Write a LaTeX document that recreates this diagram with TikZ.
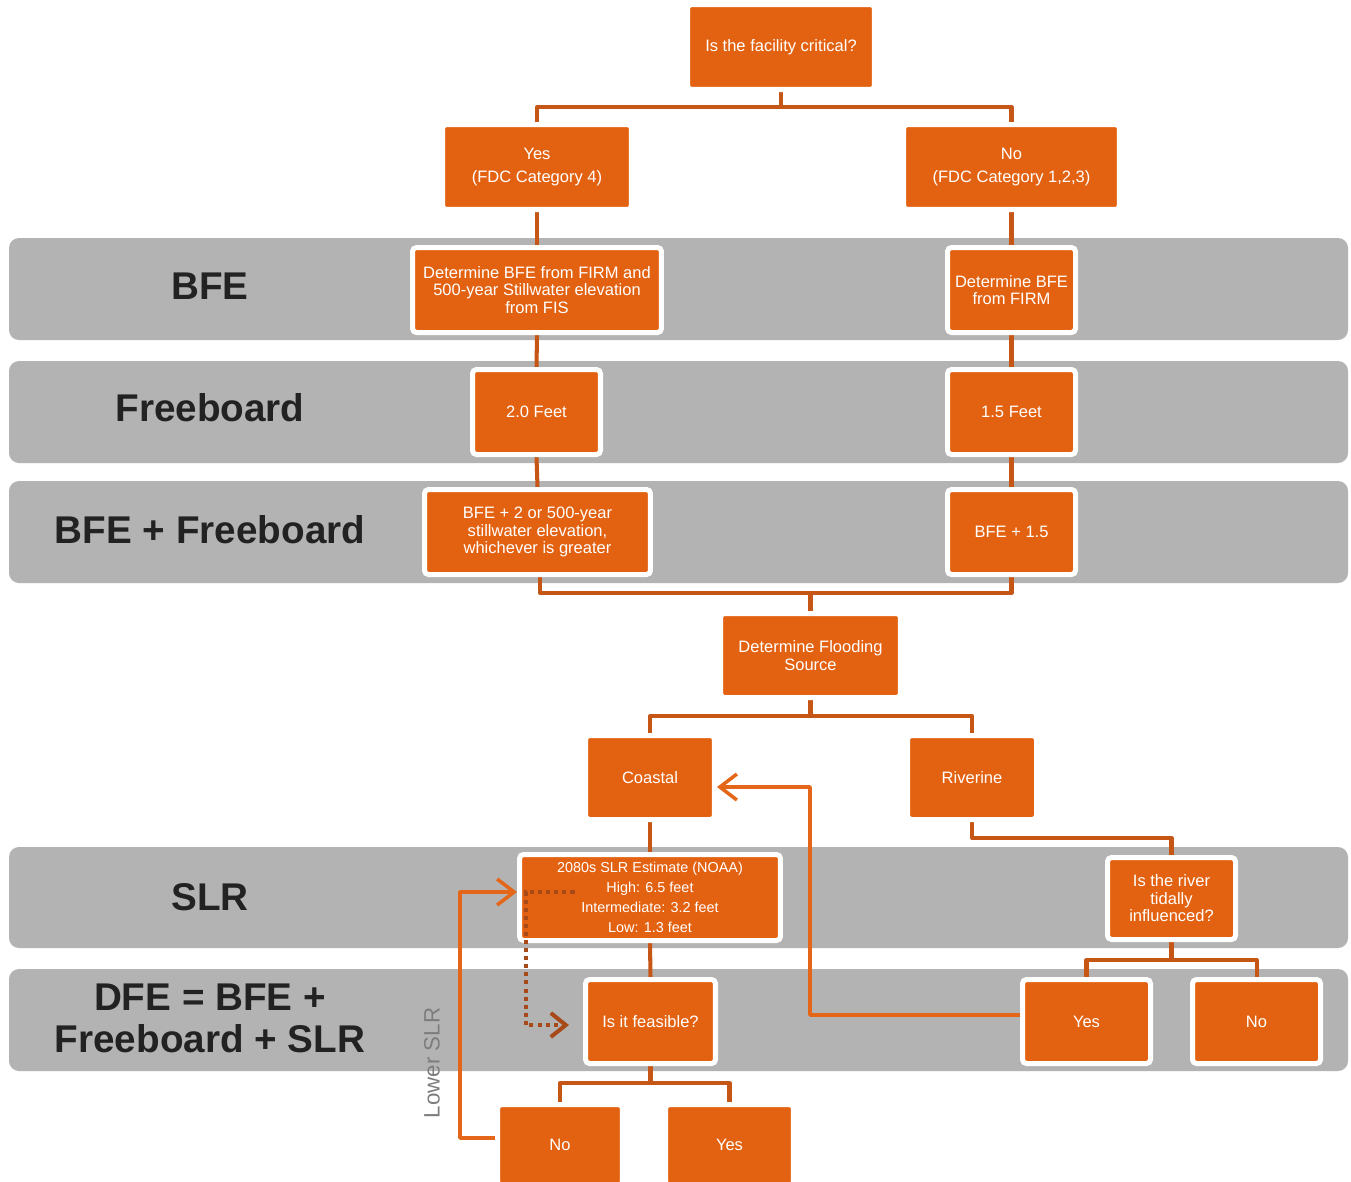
\documentclass[tikz,border=0pt]{standalone}
\usepackage{fontspec}
\setmainfont{Liberation Sans}
\usetikzlibrary{arrows.meta}
\definecolor{boxorange}{RGB}{227,98,17}
\definecolor{linkbrown}{RGB}{198,86,22}
\definecolor{backorange}{RGB}{228,102,24}
\definecolor{dotbrown}{RGB}{168,74,24}
\definecolor{bandgray}{RGB}{179,179,179}
\definecolor{labeltext}{RGB}{34,34,34}
\definecolor{lowergray}{RGB}{125,125,125}
\pgfdeclarelayer{bands}
\pgfdeclarelayer{links}
\pgfsetlayers{bands,links,main}

\begin{document}
\begin{tikzpicture}[x=0.02cm,y=-0.02cm,
  band/.style={fill=bandgray, rounded corners=0.2cm},
  bandlabel/.style={font=\fontsize{22}{24}\selectfont\bfseries, text=labeltext, align=center},
  box/.style={fill=boxorange, draw=white, line width=2.85pt, rounded corners=0.08cm,
    text=white, align=center, font=\fontsize{9.4}{10}\selectfont, inner sep=0pt,
    minimum height=1.70cm},
  answer/.style={font=\fontsize{9.4}{13.1}\selectfont},
  link/.style={draw=linkbrown, line width=2.3pt, line join=round},
  back/.style={draw=backorange, line width=2pt, line join=round,
    -{Straight Barb[length=0.34cm,width=0.52cm]}},
  dotlink/.style={draw=dotbrown, line width=2.3pt, dash pattern=on 2.3pt off 2.3pt,
    -{Straight Barb[length=0.3cm,width=0.48cm]}}
]
\useasboundingbox (0,0) rectangle (1351,1181);

% grey row bands
\begin{pgfonlayer}{bands}
  \fill[band] (9,238) rectangle (1348,340);
  \fill[band] (9,361) rectangle (1348,463);
  \fill[band] (9,481) rectangle (1348,583);
  \fill[band] (9,847) rectangle (1348,948);
  \fill[band] (9,969) rectangle (1348,1071);
\end{pgfonlayer}

% row titles
\node[bandlabel] (lbfe) at (210,286) {BFE};
\node[bandlabel] (lfree) at (210,408) {Freeboard};
\node[bandlabel] (lsum) at (210,530) {BFE + Freeboard};
\node[bandlabel] (lslr) at (210,897) {SLR};
\node[bandlabel] (ldfe) at (210,1018) {DFE = BFE +\\Freeboard + SLR};
\node[rotate=90, text=lowergray, font=\fontsize{12.7}{14}\selectfont] (lower) at (432,1063) {Lower SLR};

% decision boxes
\node[box, minimum width=3.74cm] (crit) at (781,47) {Is the facility critical?};
\node[box, answer, minimum width=3.78cm] (yes4) at (537,167) {Yes\\(FDC Category 4)};
\node[box, answer, minimum width=4.32cm] (no123) at (1011.5,167) {No\\(FDC Category 1,2,3)};
\node[box, minimum width=4.98cm] (bfeL) at (537,290) {Determine BFE from FIRM and\\500-year Stillwater elevation\\from FIS};
\node[box, minimum width=2.56cm] (bfeR) at (1011.5,290) {Determine BFE\\from FIRM};
\node[box, minimum width=2.56cm] (fbL) at (536.5,412) {2.0 Feet};
\node[box, minimum width=2.56cm] (fbR) at (1011.5,412) {1.5 Feet};
\node[box, minimum width=4.52cm] (sumL) at (537.5,532) {BFE + 2 or 500-year\\stillwater elevation,\\whichever is greater};
\node[box, minimum width=2.56cm] (sumR) at (1011.5,532) {BFE + 1.5};
\node[box, minimum width=3.60cm, minimum height=1.68cm] (source) at (810.5,655.5) {Determine Flooding\\Source};
\node[box, minimum width=2.58cm, minimum height=1.68cm] (coastal) at (650,777.5) {Coastal};
\node[box, minimum width=2.58cm, minimum height=1.68cm] (riverine) at (972,777.5) {Riverine};
\node[box, minimum width=5.22cm, minimum height=1.72cm, font=\fontsize{8.2}{11.4}\selectfont] (slr) at (650,897.5)
  {2080s SLR Estimate (NOAA)\\High: 6.5 feet\\Intermediate: 3.2 feet\\Low: 1.3 feet};
\node[box, minimum width=2.56cm, minimum height=1.64cm] (tidal) at (1171.5,898.5) {Is the river\\tidally\\influenced?};
\node[box, minimum width=2.56cm, minimum height=1.68cm] (tyes) at (1086.5,1021.5) {Yes};
\node[box, minimum width=2.56cm, minimum height=1.68cm] (tno) at (1256.5,1021.5) {No};
\node[box, minimum width=2.60cm, minimum height=1.68cm] (feas) at (650.5,1021.5) {Is it feasible?};
\node[box, minimum width=2.50cm, minimum height=1.62cm] (fno) at (560,1145) {No};
\node[box, minimum width=2.56cm, minimum height=1.62cm] (fyes) at (729.5,1145) {Yes};

% tree connectors
\begin{pgfonlayer}{links}
  \draw[link] (crit.south) -- (crit.south |- 0,107);
  \draw[link] (yes4.north) |- (no123.north |- 0,107) -- (no123.north);
  \draw[link] (yes4.south) -- (bfeL.north);
  \draw[link] (bfeL.south) -- (fbL.north);
  \draw[link] (fbL.south) -- (sumL.north);
  \draw[link] (no123.south) -- (bfeR.north);
  \draw[link] (bfeR.south) -- (fbR.north);
  \draw[link] (fbR.south) -- (sumR.north);
  \draw[link] ([xshift=0.05cm]sumL.south) |- (sumR.south |- 0,593) -- (sumR.south);
  \draw[link] (source.north) -- (source.north |- 0,593);
  \draw[link] (source.south) -- (source.south |- 0,716);
  \draw[link] (coastal.north) |- (riverine.north |- 0,716) -- (riverine.north);
  \draw[link] (coastal.south) -- (slr.north);
  \draw[link] (riverine.south) |- (tidal.north |- 0,838) -- (tidal.north);
  \draw[link] (tidal.south) -- (tidal.south |- 0,960);
  \draw[link] (tyes.north) |- (tno.north |- 0,960) -- (tno.north);
  \draw[link] (slr.south) -- (feas.north);
  \draw[link] (feas.south) -- (feas.south |- 0,1083);
  \draw[link] (fno.north) |- (fyes.north |- 0,1083) -- (fyes.north);
\end{pgfonlayer}

% loop-back arrows
\draw[back] ([yshift=0.13cm]tyes.west) -| (810,787) -- (coastal.east |- 0,787);
\draw[back] ([yshift=0.14cm]fno.west) -| (460,892) -- (slr.west |- 0,892);

% dotted shortcut to the feasibility check
\coordinate (dotend) at ([xshift=-0.28cm,yshift=-0.07cm]feas.west);
\coordinate (dotx) at ([xshift=0.17cm]slr.west);
\draw[dotlink] ([xshift=1.15cm,yshift=0.11cm]slr.west) -| (dotx |- dotend) -- (dotend);
\end{tikzpicture}
\end{document}
